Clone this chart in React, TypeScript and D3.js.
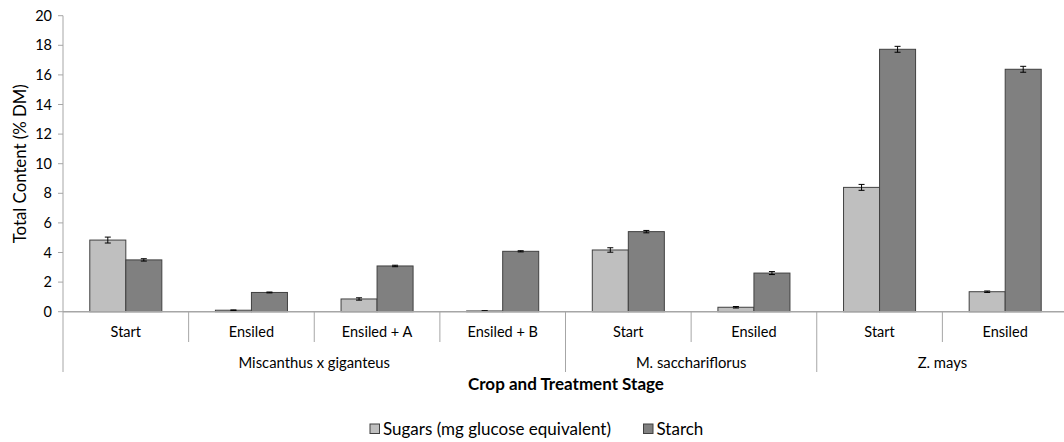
import React from "react";
import * as d3 from "d3";

const categories = ["Start", "Ensiled", "Ensiled + A", "Ensiled + B", "Start", "Ensiled", "Start", "Ensiled"];
const groups = [
  { name: "Miscanthus x giganteus", span: 4 },
  { name: "M. sacchariflorus", span: 2 },
  { name: "Z. mays", span: 2 },
];
const seriesNames = ["Sugars (mg glucose equivalent)", "Starch"];
const sugars = [4.84, 0.1, 0.86, 0.05, 4.17, 0.3, 8.4, 1.35];
const sugarsErr = [0.2, 0.02, 0.08, 0.02, 0.15, 0.05, 0.2, 0.05];
const starch = [3.5, 1.3, 3.09, 4.08, 5.41, 2.61, 17.73, 16.38];
const starchErr = [0.08, 0.03, 0.05, 0.04, 0.08, 0.1, 0.2, 0.2];
const yTicks = [0, 2, 4, 6, 8, 10, 12, 14, 16, 18, 20];

const W = 1064;
const H = 442;
const FONT = "Lato, 'Open Sans', sans-serif";
const colors = ["#bfbfbf", "#808080"];

export default function App() {
  const left = 63;
  const right = 1068;
  const top = 15.7;
  const bottom = 311.7;

  const x = d3.scaleBand<number>().domain(d3.range(categories.length)).range([left, right]).padding(0);
  const bw = x.bandwidth();
  const inner = d3.scaleBand<number>().domain([0, 1]).range([0, bw]).paddingInner(0).paddingOuter(0.744);
  const y = d3.scaleLinear().domain([0, 20]).range([bottom, top]);

  const series = [
    { vals: sugars, errs: sugarsErr },
    { vals: starch, errs: starchErr },
  ];

  let acc = 0;
  const groupPos = groups.map((g) => {
    const start = acc;
    acc += g.span;
    return { ...g, start, end: acc };
  });

  const axisColor = "#a6a6a6";

  return (
    <svg width={W} height={H} style={{ position: "absolute", left: 0, top: 0, background: "#fff" }} fontFamily={FONT}>
      {/* y axis */}
      <line x1={left} x2={left} y1={top} y2={bottom} stroke={axisColor} strokeWidth={1} />
      {yTicks.map((t) => (
        <g key={t}>
          <line x1={left - 5} x2={left} y1={y(t)} y2={y(t)} stroke={axisColor} />
          <text x={left - 11} y={y(t)} dy="0.35em" textAnchor="end" fontSize={14.5} fill="#000">
            {t}
          </text>
        </g>
      ))}
      <text
        transform={`translate(20,${(top + bottom) / 2}) rotate(-90)`}
        textAnchor="middle"
        dy="0.35em"
        fontSize={16.8}
        fill="#000"
      >
        Total Content (% DM)
      </text>

      {/* bars */}
      {series.map((s, si) =>
        s.vals.map((v, i) => {
          const bx = (x(i) as number) + (inner(si) as number);
          const w = inner.bandwidth();
          const cx = bx + w / 2;
          const e = s.errs[i];
          return (
            <g key={`${si}-${i}`}>
              <rect x={bx} y={y(v)} width={w} height={y(0) - y(v)} fill={colors[si]} stroke="#404040" strokeWidth={1} />
              <line x1={cx} x2={cx} y1={y(v + e)} y2={y(v - e)} stroke="#000" strokeWidth={1} />
              <line x1={cx - 3} x2={cx + 3} y1={y(v + e)} y2={y(v + e)} stroke="#000" strokeWidth={1} />
              <line x1={cx - 3} x2={cx + 3} y1={y(v - e)} y2={y(v - e)} stroke="#000" strokeWidth={1} />
            </g>
          );
        })
      )}

      {/* x axis */}
      <line x1={left} x2={right} y1={bottom} y2={bottom} stroke={axisColor} strokeWidth={1.5} />
      {categories.map((c, i) => {
        const isGroupEdge = groupPos.some((g) => g.start === i);
        return (
          <g key={i}>
            <line
              x1={x(i) as number}
              x2={x(i) as number}
              y1={bottom}
              y2={isGroupEdge ? 372 : 342}
              stroke={axisColor}
            />
            <text x={(x(i) as number) + bw / 2} y={332} dy="0.35em" textAnchor="middle" fontSize={14.5} fill="#000">
              {c}
            </text>
          </g>
        );
      })}
      {groupPos.map((g) => (
        <text
          key={g.name}
          x={((x(g.start) as number) + (g.end < categories.length ? (x(g.end) as number) : right)) / 2}
          y={362.5}
          dy="0.35em"
          textAnchor="middle"
          fontSize={14.8}
          fill="#000"
        >
          {g.name}
        </text>
      ))}
      <text x={566} y={384} dy="0.35em" textAnchor="middle" fontSize={17} fontWeight="bold" fill="#000">
        Crop and Treatment Stage
      </text>

      {/* legend */}
      {seriesNames.map((n, i) => {
        const lx = [370, 643.5][i];
        return (
          <g key={n}>
            <rect x={lx} y={424} width={9.5} height={9.5} fill={colors[i]} stroke="#404040" />
            <text x={lx + 13} y={429} dy="0.35em" fontSize={17} fill="#000">
              {n}
            </text>
          </g>
        );
      })}
    </svg>
  );
}
